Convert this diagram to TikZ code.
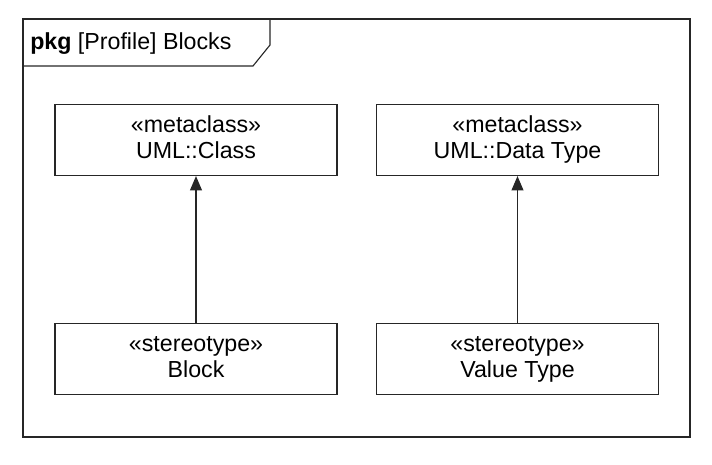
\documentclass[tikz,border=0pt]{standalone}
\usepackage{fontspec}
\setmainfont{Liberation Sans}
\usetikzlibrary{arrows.meta}

\tikzset{
  umlbox/.style={draw=black!85, line width=0.8pt, minimum width=282*0.025cm, minimum height=71*0.025cm, align=center, inner sep=0pt},
  gen/.style={draw=black!85, line width=0.8pt, -{Triangle[width=0.3cm,length=0.36cm]}}
}

\begin{document}
\begin{tikzpicture}[x=0.025cm, y=-0.025cm, font=\fontsize{16.5}{18.5}\selectfont]
  \useasboundingbox (0,0) rectangle (712,465);
  % frame and name tab
  \draw[black!85, line width=0.8pt] (23,19) rectangle (690,437);
  \draw[black!85, line width=0.8pt] (23,66) -- (253,66) -- (270,45) -- (270,19);
  \node[anchor=west, inner sep=0pt] (pkgName) at (30,44) {\textbf{pkg} [Profile] Blocks};
  % metaclasses
  \node[umlbox] (umlClass) at (196,140) {\strut«metaclass»\\UML::Class\strut};
  \node[umlbox] (umlDataType) at (517.5,140) {\strut«metaclass»\\UML::Data Type\strut};
  % stereotypes
  \node[umlbox] (block) at (196,359) {\strut«stereotype»\\Block\strut};
  \node[umlbox] (valueType) at (517.5,359) {\strut«stereotype»\\Value Type\strut};
  \draw[gen] (block) -- (umlClass);
  \draw[gen] (valueType) -- (umlDataType);
\end{tikzpicture}
\end{document}
